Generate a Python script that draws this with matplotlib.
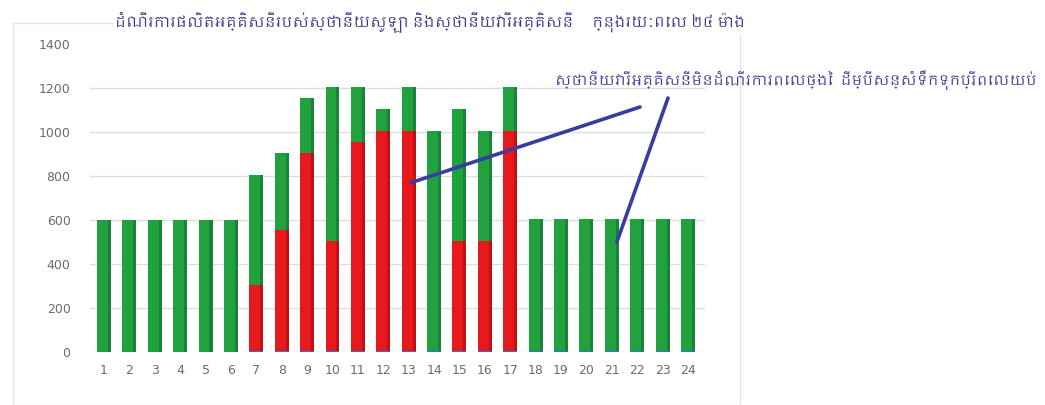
import numpy as np
import matplotlib
matplotlib.use("Agg")
import matplotlib.pyplot as plt
from matplotlib import font_manager as fm
from matplotlib.patches import Rectangle

# ---------------- data ----------------
hours = [str(h) for h in range(1, 25)]
solar = [0, 0, 0, 0, 0, 0, 300, 550, 900, 500, 950, 1000,
         1000, 0, 500, 500, 1000, 0, 0, 0, 0, 0, 0, 0]          # red
hydro = [600, 600, 600, 600, 600, 600, 500, 350, 250, 700, 250, 100,
         200, 1000, 600, 500, 200, 600, 600, 600, 600, 600, 600, 600]  # green
base = [0, 0, 0, 0, 0, 0, 6, 6, 6, 6, 6, 6,
        6, 6, 6, 6, 6, 6, 6, 6, 6, 6, 6, 6]                    # thin blue
yticks = [0, 200, 400, 600, 800, 1000, 1200, 1400]

title = "ដំណើរការផលិតអគ្គិសនីរបស់ស្ថានីយសូឡា និងស្ថានីយវារីអគ្គិសនី     ក្នុងរយៈពេល ២៤ ម៉ោង"
note = "ស្ថានីយវារីអគ្គិសនីមិនដំណើរការពេលថ្ងៃ  ដើម្បីសន្សំទឹកទុកប្រើពេលយប់"

# ---------------- font with Khmer ----------------
khmer_font = None
for f in fm.fontManager.ttflist:
    if 'khmer' in f.name.lower():
        khmer_font = f.name
        break
if khmer_font is None:
    from matplotlib.ft2font import FT2Font
    seen = set()
    for f in fm.fontManager.ttflist:
        if f.fname in seen:
            continue
        seen.add(f.fname)
        try:
            if 0x1780 in FT2Font(f.fname).get_charmap():
                khmer_font = f.name
                break
        except Exception:
            pass
fam = [khmer_font, 'DejaVu Sans'] if khmer_font else ['DejaVu Sans']

# ---------------- figure ----------------
W, H = 1045, 405
fig = plt.figure(figsize=(W / 100, H / 100), dpi=100)
fig.patch.set_facecolor('white')

# faint chart frame
fig.add_artist(Rectangle((13 / W, 0.0), (740 - 13) / W, 1 - 23 / H,
                         transform=fig.transFigure, fill=False,
                         edgecolor='#e6e6e6', lw=1.0, zorder=0))

ax = fig.add_axes([90 / W, (H - 352) / H, (705 - 90) / W, (352 - 44) / H])
x = np.arange(1, 25)
width = 0.55

green = '#22a23f'
green_d = '#17843a'
red = '#e8191d'
red_d = '#c01216'
blue = '#3b6fc8'

b0 = np.array(base)
s = np.array(solar)
g = np.array(hydro)

ax.bar(x, b0, width, color=blue, zorder=3)
ax.bar(x, s, width, bottom=b0, color=red, zorder=3)
ax.bar(x, g, width, bottom=b0 + s, color=green, zorder=3)
# darker right edge (3D look)
ax.bar(x + width / 2 - 0.06, s, 0.12, bottom=b0, color=red_d, zorder=4)
ax.bar(x + width / 2 - 0.06, g, 0.12, bottom=b0 + s, color=green_d, zorder=4)

ax.set_xlim(0.45, 24.67)
ax.set_ylim(0, 1400)
ax.set_yticks(yticks)
ax.set_xticks(x)
ax.set_xticklabels(hours)
ax.tick_params(axis='both', length=0, labelsize=9, colors='#6b6b6b')
ax.tick_params(axis='y', pad=14)
ax.tick_params(axis='x', pad=9)
for sp in ax.spines.values():
    sp.set_visible(False)
for yv in yticks[:-1]:
    ax.axhline(yv, color='#dedede', lw=1.0, zorder=1)

# title
t_title = fig.text(115 / W, 1 - 22 / H, title, family=fam, fontsize=11,
                   color='#3b3b8c', va='center', ha='left',
                   bbox=dict(facecolor='white', edgecolor='none', pad=1))

# annotation
t_note = fig.text(555 / W, 1 - 80 / H, note, family=fam, fontsize=10.5,
                  color='#4040a0', va='center', ha='left')

# fit text widths to the reference spans
renderer = fig.canvas.get_renderer()
for txt, target in ((t_title, 745 - 115), (t_note, 1038 - 555)):
    w = txt.get_window_extent(renderer=renderer).width
    if w > 0:
        txt.set_fontsize(txt.get_fontsize() * target / w)

line_col = '#3c3ca0'
ax.annotate('', xy=(13.1, 770), xycoords='data',
            xytext=(640 / W, 1 - 107 / H), textcoords='figure fraction',
            arrowprops=dict(arrowstyle='-', color=line_col, lw=2.6,
                            shrinkA=0, shrinkB=0), zorder=6)
ax.annotate('', xy=(21.2, 500), xycoords='data',
            xytext=(668 / W, 1 - 98 / H), textcoords='figure fraction',
            arrowprops=dict(arrowstyle='-', color=line_col, lw=2.6,
                            shrinkA=0, shrinkB=0), zorder=6)

fig.savefig('out.png', dpi=100)
